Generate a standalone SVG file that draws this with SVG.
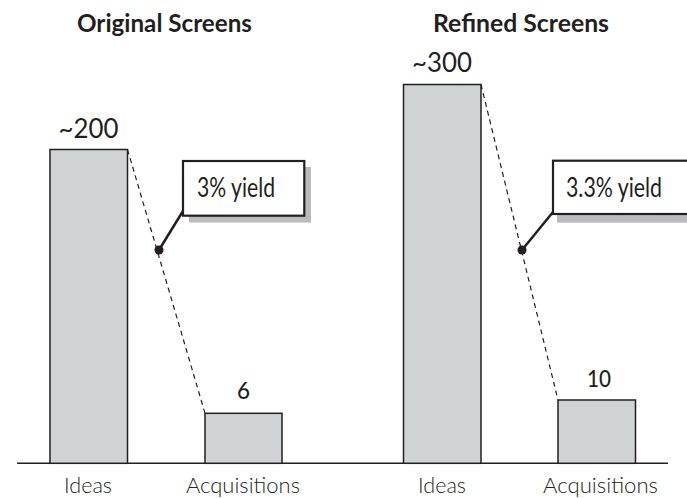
<svg xmlns="http://www.w3.org/2000/svg" width="687" height="498" viewBox="0 0 687 498">
<style>
  .bar { fill: #d1d2d4; stroke: #231f20; stroke-width: 1.5; }
  .axis { stroke: #231f20; stroke-width: 1.5; fill: none; }
  .dash { stroke: #231f20; stroke-width: 1.2; stroke-dasharray: 5 4; fill: none; }
  .lead { stroke: #231f20; stroke-width: 2.5; fill: none; }
  .dot { fill: #231f20; }
  .box { fill: #ffffff; stroke: #231f20; stroke-width: 2.2; }
  .shadow { fill: #b9babc; }
  .title { font-family: Lato, "Open Sans", sans-serif; font-weight: bold; font-size: 24px; fill: #231f20; text-anchor: middle; }
  .val { font-family: Lato, "Open Sans", sans-serif; font-size: 26px; fill: #231f20; text-anchor: middle; }
  .num { font-family: Lato, "Open Sans", sans-serif; font-size: 23px; font-weight: 500; fill: #231f20; text-anchor: middle; }
  .lab { font-family: Lato, "Open Sans", sans-serif; font-size: 21px; font-weight: 300; fill: #231f20; text-anchor: middle; }
  .callout { font-family: Lato, "Open Sans", sans-serif; font-size: 27px; fill: #231f20; }
</style>

<g id="title-original"><text class="title" x="164.5" y="32" textLength="175" lengthAdjust="spacingAndGlyphs">Original Screens</text></g>
<g id="title-refined"><text class="title" x="521" y="32" textLength="176" lengthAdjust="spacingAndGlyphs">Refined Screens</text></g>

<g id="axis"><line class="axis" x1="17" y1="463.3" x2="668" y2="463.3"/></g>

<g id="bar-ideas-original">
  <rect class="bar" x="50" y="149.5" width="77.5" height="313.8"/>
  <text class="val" x="88.5" y="138" textLength="60" lengthAdjust="spacingAndGlyphs">~200</text>
  <text class="lab" x="88" y="493" textLength="48" lengthAdjust="spacingAndGlyphs">Ideas</text>
</g>
<g id="bar-acq-original">
  <rect class="bar" x="205" y="413.3" width="77" height="50"/>
  <text class="num" x="243.5" y="399" textLength="13" lengthAdjust="spacingAndGlyphs">6</text>
  <text class="lab" x="243" y="493" textLength="114" lengthAdjust="spacingAndGlyphs">Acquisitions</text>
</g>
<g id="bar-ideas-refined">
  <rect class="bar" x="403.5" y="84.5" width="77.5" height="378.8"/>
  <text class="val" x="442" y="72" textLength="60" lengthAdjust="spacingAndGlyphs">~300</text>
  <text class="lab" x="442" y="493" textLength="48" lengthAdjust="spacingAndGlyphs">Ideas</text>
</g>
<g id="bar-acq-refined">
  <rect class="bar" x="558" y="400" width="77.5" height="63.3"/>
  <text class="num" x="599" y="387" textLength="24" lengthAdjust="spacingAndGlyphs">10</text>
  <text class="lab" x="600.5" y="493" textLength="115" lengthAdjust="spacingAndGlyphs">Acquisitions</text>
</g>

<g id="connectors">
  <line class="dash" x1="127.5" y1="149.5" x2="205" y2="413.3"/>
  <line class="dash" x1="481" y1="84.5" x2="558" y2="400"/>
  <line class="lead" x1="159" y1="250" x2="183" y2="211"/>
  <circle class="dot" cx="159" cy="250" r="4.5"/>
  <line class="lead" x1="522" y1="250" x2="553" y2="212"/>
  <circle class="dot" cx="522" cy="250" r="4.5"/>
</g>

<g id="callout-original">
  <rect class="shadow" x="189" y="167" width="122" height="55.5"/>
  <rect class="box" x="183" y="161" width="121.3" height="54.7"/>
  <text class="callout" x="197" y="197" textLength="78" lengthAdjust="spacingAndGlyphs">3% yield</text>
</g>
<g id="callout-refined">
  <rect class="shadow" x="557" y="167" width="140" height="55.7"/>
  <rect class="box" x="553" y="160.7" width="140" height="53.3"/>
  <text class="callout" x="566" y="197" textLength="96" lengthAdjust="spacingAndGlyphs">3.3% yield</text>
</g>
</svg>
